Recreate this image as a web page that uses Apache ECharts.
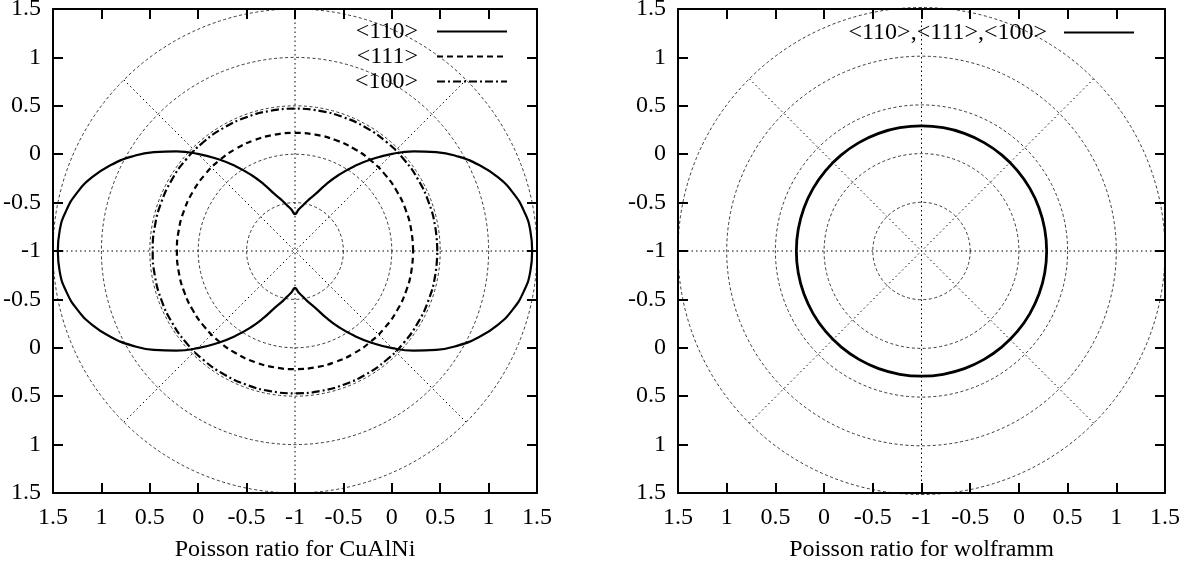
<!DOCTYPE html>
<html><head><meta charset="utf-8">
<script src="https://cdn.jsdelivr.net/npm/echarts/dist/echarts.min.js"></script>
<style>html,body{margin:0;padding:0;background:#fff}#c{width:1181px;height:563px}</style>
</head><body><div id="c"></div>
<script>
// tick labels shown on every frame side (gnuplot polar style: |distance from centre| - 1)
const tickLabels = ['1.5','1','0.5','0','-0.5','-1','-0.5','0','0.5','1','1.5'];
const tickValues = [-2.5,-2,-1.5,-1,-0.5,0,0.5,1,1.5,2,2.5];

// angles (degrees) of the sampled points
const angles5 = [0,5,10,15,20,25,30,35,40,45,50,55,60,65,70,75,80,85,90,
  95,100,105,110,115,120,125,130,135,140,145,150,155,160,165,170,175,180,
  185,190,195,200,205,210,215,220,225,230,235,240,245,250,255,260,265,270,
  275,280,285,290,295,300,305,310,315,320,325,330,335,340,345,350,355,360];
const angles10 = [0,10,20,30,40,50,60,70,80,90,100,110,120,130,140,150,160,170,180,
  190,200,210,220,230,240,250,260,270,280,290,300,310,320,330,340,350,360];

// CuAlNi Poisson ratio
const r110 = [1.45,1.44,1.40,1.33,1.23,1.10,0.95,0.78,0.60,0.42,0.24,0.07,-0.09,-0.24,-0.37,-0.45,-0.52,-0.57,-0.62,
  -0.57,-0.52,-0.45,-0.37,-0.24,-0.09,0.07,0.24,0.42,0.60,0.78,0.95,1.10,1.23,1.33,1.40,1.44,1.45,
  1.44,1.40,1.33,1.23,1.10,0.95,0.78,0.60,0.42,0.24,0.07,-0.09,-0.24,-0.37,-0.45,-0.52,-0.57,-0.62,
  -0.57,-0.52,-0.45,-0.37,-0.24,-0.09,0.07,0.24,0.42,0.60,0.78,0.95,1.10,1.23,1.33,1.40,1.44,1.45];
const r111 = [0.22,0.22,0.22,0.22,0.22,0.22,0.22,0.22,0.22,0.22,0.22,0.22,0.22,0.22,0.22,0.22,0.22,0.22,0.22,
  0.22,0.22,0.22,0.22,0.22,0.22,0.22,0.22,0.22,0.22,0.22,0.22,0.22,0.22,0.22,0.22,0.22,0.22];
const r100 = [0.47,0.47,0.47,0.47,0.47,0.47,0.47,0.47,0.47,0.47,0.47,0.47,0.47,0.47,0.47,0.47,0.47,0.47,0.47,
  0.47,0.47,0.47,0.47,0.47,0.47,0.47,0.47,0.47,0.47,0.47,0.47,0.47,0.47,0.47,0.47,0.47,0.47];
// wolframm (isotropic)
const rW = [0.285,0.285,0.285,0.285,0.285,0.285,0.285,0.285,0.285,0.285,0.285,0.285,0.285,0.285,0.285,0.285,0.285,0.285,0.285,
  0.285,0.285,0.285,0.285,0.285,0.285,0.285,0.285,0.285,0.285,0.285,0.285,0.285,0.285,0.285,0.285,0.285,0.285];

const leftNames = ['<110>','<111>','<100>'];
const rightName = '<110>,<111>,<100>';
const leftTitle = 'Poisson ratio for CuAlNi';
const rightTitle = 'Poisson ratio for wolframm';

const FONT = 'Liberation Serif';
const FS = 24;
function fmt(v){
  let best = 0, bd = 1e9;
  tickValues.forEach((t,i)=>{ const d=Math.abs(t-v); if(d<bd){bd=d;best=i;} });
  return tickLabels[best];
}
const lineBlack = {color:'#000', width:2};
function axis(gi, pos, isX, showLabel, name){
  const a = {
    gridIndex: gi, type:'value', position: pos, min:-2.5, max:2.5, interval:0.5,
    axisLine:{show:true, onZero:false, lineStyle:lineBlack},
    axisTick:{show:true, inside:true, length:10, lineStyle:lineBlack},
    axisLabel:{show:showLabel, formatter:fmt, color:'#000', fontFamily:FONT, fontSize:FS,
      margin: isX ? 13 : 12, showMinLabel:true, showMaxLabel:true},
    splitLine:{show:false}
  };
  if(name){
    a.name = name; a.nameLocation='middle'; a.nameGap = 45;
    a.nameTextStyle = {color:'#000', fontFamily:FONT, fontSize:FS};
  }
  return a;
}
const grids = [
  {left:53, top:9, width:484, height:484, containLabel:false, outerBoundsMode:'none'},
  {left:678, top:9, width:487, height:484, containLabel:false, outerBoundsMode:'none'}
];
const polars = [
  {center:[295, 251], radius:242},
  {center:[921.5, 251], radius:243.5}
];
function angleAx(pi){
  return {polarIndex:pi, type:'value', min:0, max:360, interval:45, startAngle:0, clockwise:false,
    axisLine:{show:false}, axisTick:{show:false}, axisLabel:{show:false},
    splitLine:{show:true, lineStyle:{color:'#000', width:1, type:[1.5,3]}}};
}
function radiusAx(pi){
  return {polarIndex:pi, type:'value', min:-1, max:1.5, interval:0.5,
    axisLine:{show:false}, axisTick:{show:false}, axisLabel:{show:false},
    splitLine:{show:true, lineStyle:{color:'#222', width:0.9, type:[3,2.5]}}};
}
function polarLine(pi, name, angs, rs, style){
  return {type:'line', name, coordinateSystem:'polar', polarIndex:pi,
    data: angs.map((a,i)=>[rs[i], a]), symbol:'none', showSymbol:false, smooth:true,
    lineStyle:Object.assign({color:'#000'}, style), itemStyle:{color:'#000'},
    silent:true, animation:false, z:5};
}
const legendBase = {orient:'vertical', align:'right', itemWidth:70, itemHeight:14, itemGap:0, padding:0,
  selectedMode:false, itemStyle:{opacity:0, color:'transparent', borderWidth:0},
  textStyle:{color:'#000', fontFamily:FONT, fontSize:FS, lineHeight:25, padding:[0,14,0,0]}};
const option = {
  animation:false,
  backgroundColor:'#fff',
  grid: grids,
  xAxis:[axis(0,'bottom',true,true,leftTitle), axis(0,'top',true,false),
         axis(1,'bottom',true,true,rightTitle), axis(1,'top',true,false)],
  yAxis:[axis(0,'left',false,true), axis(0,'right',false,false),
         axis(1,'left',false,true), axis(1,'right',false,false)],
  polar: polars,
  angleAxis:[angleAx(0), angleAx(1)],
  radiusAxis:[radiusAx(0), radiusAx(1)],
  legend:[
    Object.assign({}, legendBase, {data:leftNames, right:1181-508, top:19}),
    Object.assign({}, legendBase, {data:[rightName], right:1181-1135, top:20,
      textStyle:Object.assign({}, legendBase.textStyle, {padding:[0,12,0,0]})})
  ],
  series:[
    polarLine(0, leftNames[0], angles5, r110, {width:2.2}),
    polarLine(0, leftNames[1], angles10, r111, {width:2.2, type:[6,4]}),
    polarLine(0, leftNames[2], angles10, r100, {width:2.2, type:[8,3,2,3]}),
    polarLine(1, rightName, angles10, rW, {width:2.8})
  ]
};
const chart = echarts.init(document.getElementById('c'), null, {renderer:'canvas'});
chart.setOption(option);
</script></body></html>
